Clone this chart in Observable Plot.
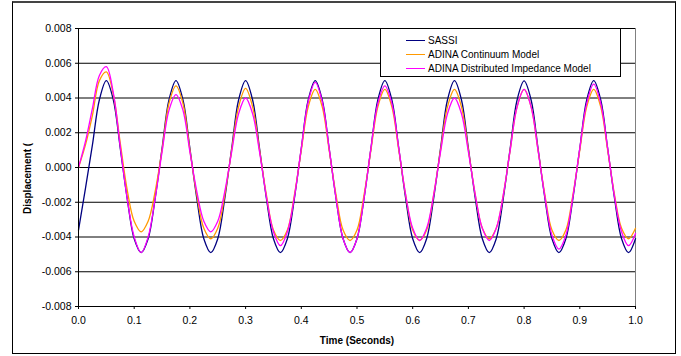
<!DOCTYPE html>
<html><head><meta charset="utf-8">
<script src="https://cdn.jsdelivr.net/npm/d3@7"></script>
<script src="https://cdn.jsdelivr.net/npm/@observablehq/plot@0.6"></script>
<style>
body{margin:0;background:#fff;}
#wrap{position:relative;width:681px;height:356px;overflow:hidden;font-family:"Liberation Sans",Arial,sans-serif;color:#000;}
#frame{position:absolute;left:12px;top:1px;width:662px;height:350px;border:1px solid #000;border-top:2px solid #444;pointer-events:none;}
#legend{position:absolute;left:380px;top:28px;width:239px;height:47px;border:1px solid #000;background:#fff;font-size:10px;}
.row{position:absolute;left:25px;height:14px;display:flex;align-items:center;white-space:nowrap;}
.sw{width:19px;height:0;border-top:1.5px solid;margin-right:3px;}
</style></head>
<body><div id="wrap"><div id="frame"></div><div id="legend"></div></div>
<script>
const time = [0,0.0125,0.025,0.0375,0.05,0.0625,0.075,0.0875,0.1,0.1125,
0.125,0.1375,0.15,0.1625,0.175,0.1875,0.2,0.2125,0.225,0.2375,
0.25,0.2625,0.275,0.2875,0.3,0.3125,0.325,0.3375,0.35,0.3625,
0.375,0.3875,0.4,0.4125,0.425,0.4375,0.45,0.4625,0.475,0.4875,
0.5,0.5125,0.525,0.5375,0.55,0.5625,0.575,0.5875,0.6,0.6125,
0.625,0.6375,0.65,0.6625,0.675,0.6875,0.7,0.7125,0.725,0.7375,
0.75,0.7625,0.775,0.7875,0.8,0.8125,0.825,0.8375,0.85,0.8625,
0.875,0.8875,0.9,0.9125,0.925,0.9375,0.95,0.9625,0.975,0.9875,1];

const sassi = [-0.0036,-0.0012,0.0013,0.0039,0.0050,0.0039,0.0011,-0.0018,-0.0041,-0.0049,
-0.0041,-0.0018,0.0011,0.0039,0.0050,0.0039,0.0011,-0.0018,-0.0041,-0.0049,
-0.0041,-0.0018,0.0011,0.0039,0.0050,0.0039,0.0011,-0.0018,-0.0041,-0.0049,
-0.0041,-0.0018,0.0011,0.0039,0.0050,0.0039,0.0011,-0.0018,-0.0041,-0.0049,
-0.0041,-0.0018,0.0011,0.0039,0.0050,0.0039,0.0011,-0.0018,-0.0041,-0.0049,
-0.0041,-0.0018,0.0011,0.0039,0.0050,0.0039,0.0011,-0.0018,-0.0041,-0.0049,
-0.0041,-0.0018,0.0011,0.0039,0.00498,0.0039,0.0011,-0.0018,-0.0041,-0.0049,
-0.0041,-0.0018,0.0011,0.0039,0.0050,0.0039,0.0011,-0.0018,-0.0041,-0.0049,
-0.0041];

const continuum = [0,0.0013,0.0030,0.0050,0.0055,0.0042,0.0014,-0.0013,-0.0031,-0.0037,
-0.0031,-0.0014,0.0010,0.0037,0.0047,0.0037,0.0010,-0.0016,-0.0035,-0.0041,
-0.0035,-0.0016,0.0010,0.0035,0.00455,0.0035,0.0010,-0.0016,-0.0036,-0.0042,
-0.0036,-0.0016,0.0010,0.0035,0.0045,0.0035,0.0010,-0.0016,-0.0036,-0.0042,
-0.0036,-0.0016,0.0010,0.0035,0.0045,0.0035,0.0010,-0.0016,-0.0036,-0.0042,
-0.0036,-0.0016,0.0010,0.0035,0.0045,0.0035,0.0010,-0.0016,-0.0035,-0.0041,
-0.0035,-0.0016,0.0010,0.0035,0.0045,0.0035,0.0010,-0.0016,-0.0036,-0.0042,
-0.0036,-0.0016,0.0010,0.0035,0.0045,0.0035,0.0010,-0.0016,-0.0035,-0.0041,
-0.0035];

const impedance = [0,0.0015,0.0034,0.0053,0.0058,0.0043,0.0012,-0.0018,-0.0040,-0.0049,
-0.0040,-0.0018,0.0009,0.0033,0.0042,0.0033,0.0009,-0.0014,-0.0031,-0.0037,
-0.0031,-0.0014,0.0009,0.0031,0.0040,0.0031,0.0009,-0.0017,-0.0037,-0.0045,
-0.0037,-0.0017,0.0011,0.0038,0.0049,0.0038,0.0011,-0.0018,-0.0041,-0.0049,
-0.0041,-0.0018,0.0011,0.0037,0.0047,0.0037,0.0011,-0.0016,-0.0035,-0.0042,
-0.0035,-0.0016,0.0009,0.0031,0.0040,0.0031,0.0009,-0.0016,-0.0035,-0.0042,
-0.0035,-0.0016,0.0010,0.0035,0.0045,0.0035,0.0010,-0.0017,-0.0039,-0.0047,
-0.0039,-0.0017,0.0011,0.0037,0.0048,0.0037,0.0011,-0.0017,-0.0037,-0.0045,
-0.0038];

const seriesNames = ["SASSI","ADINA Continuum Model","ADINA Distributed Impedance Model"];
const seriesColors = ["#000080","#FF9900","#FF00FF"];

const yTicks = [-0.008,-0.006,-0.004,-0.002,0,0.002,0.004,0.006,0.008];
const yTickLabels = ["-0.008","-0.006","-0.004","-0.002","0.000","0.002","0.004","0.006","0.008"];
const xTicks = [0,0.1,0.2,0.3,0.4,0.5,0.6,0.7,0.8,0.9,1];
const xTickLabels = ["0.0","0.1","0.2","0.3","0.4","0.5","0.6","0.7","0.8","0.9","1.0"];
const xTitle = "Time (Seconds)";
const yTitle = "Displacement (";

const values = [sassi, continuum, impedance];

const chart = Plot.plot({
  width: 681, height: 356,
  marginLeft: 78, marginRight: 46, marginTop: 28, marginBottom: 50,
  style: {fontFamily: "'Liberation Sans', Arial, sans-serif", fontSize: "10.5px", color: "#000", background: "transparent", overflow: "visible"},
  x: {domain: [0, 1]},
  y: {domain: [-0.008, 0.008]},
  marks: [
    Plot.ruleY(yTicks, {stroke: "#000", strokeWidth: 1}),
    Plot.ruleX([1], {stroke: "#808080", strokeWidth: 1}),
    ...values.map((v, k) => Plot.line(v, {x: time, y: v, stroke: seriesColors[k], strokeWidth: 1.3, curve: "catmull-rom"})),
    Plot.ruleX([0], {stroke: "#000", strokeWidth: 1}),
    Plot.axisY({ticks: yTicks, tickFormat: d => yTickLabels[yTicks.indexOf(d)], tickSize: 3, tickPadding: 4, label: null, stroke: "#000"}),
    Plot.axisX({ticks: xTicks, tickFormat: d => xTickLabels[xTicks.indexOf(d)], tickSize: 3, tickPadding: 7, label: null, stroke: "#000"}),
    Plot.text([xTitle], {text: d => d, frameAnchor: "bottom", dy: 34, lineAnchor: "middle", fontWeight: "bold", fontSize: 10}),
    Plot.text([yTitle], {text: d => d, frameAnchor: "left", dx: -51, dy: 11, rotate: -90, textAnchor: "middle", lineAnchor: "middle", fontWeight: "bold", fontSize: 10})
  ]
});
chart.style.position = "absolute";
chart.style.left = "0";
chart.style.top = "0";
const wrap = document.getElementById("wrap");
wrap.insertBefore(chart, wrap.firstChild);

const legend = document.getElementById("legend");
const rowTops = [4, 18, 32];
seriesNames.forEach((name, k) => {
  const row = document.createElement("div");
  row.className = "row";
  row.style.top = rowTops[k] + "px";
  const sw = document.createElement("span");
  sw.className = "sw";
  sw.style.borderTopColor = seriesColors[k];
  const tx = document.createElement("span");
  tx.textContent = name;
  row.appendChild(sw); row.appendChild(tx);
  legend.appendChild(row);
});
</script>
</body></html>
